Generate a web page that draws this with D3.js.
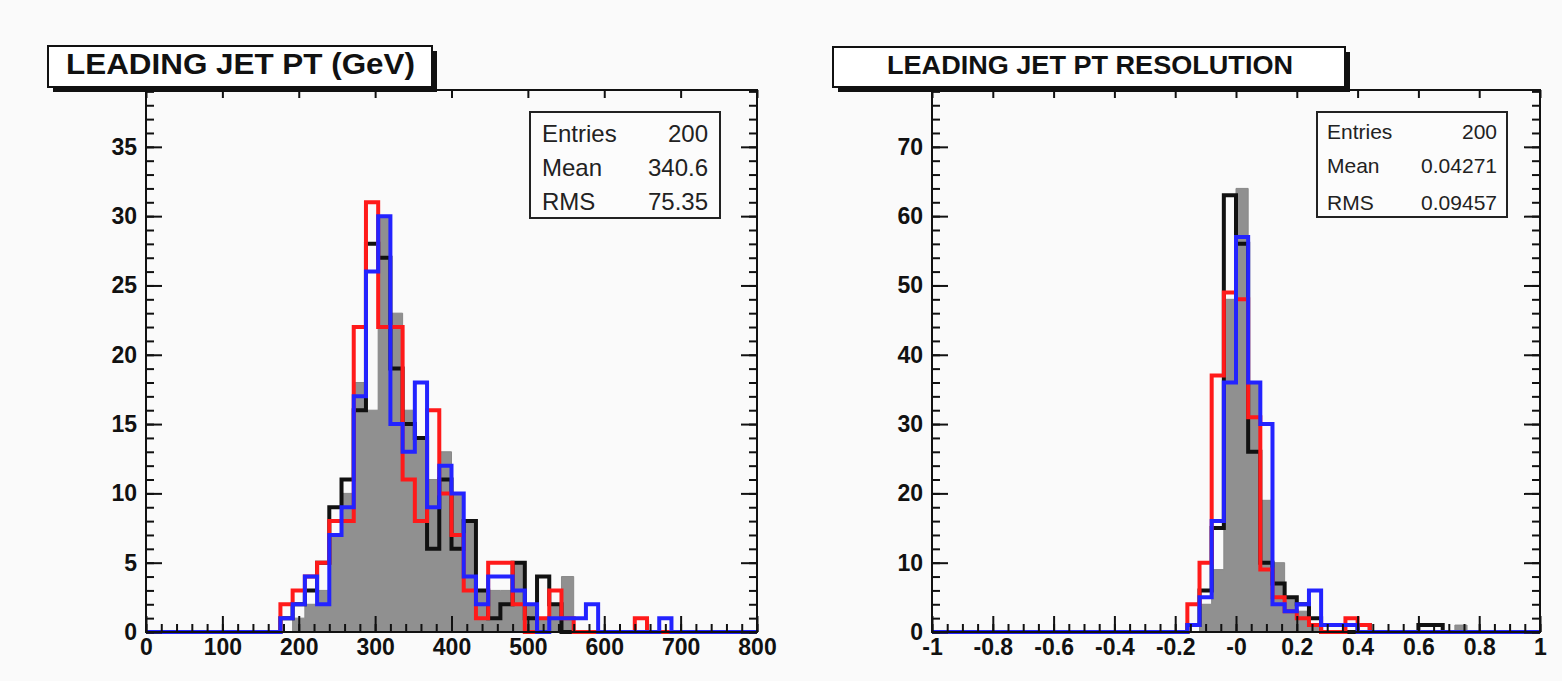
<!DOCTYPE html>
<html>
<head>
<meta charset="utf-8">
<script src="https://cdn.jsdelivr.net/npm/d3@7"></script>
<style>
  body { margin: 0; background: #fafafa; }
  svg { display: block; }
  .tick text { font-family: "Liberation Sans", Arial, sans-serif; font-weight: bold; font-size: 23px; fill: #111; }
  .tick line { stroke: #111; stroke-width: 2; }
</style>
</head>
<body>
<svg id="chart" width="1562" height="681"></svg>
<script>
// ---- data: bin contents (50 bins each) ----
// leading jet pt, 0..800 GeV, 16 GeV bins
const ptRange = [0, 800];
const ptTicks = [0, 100, 200, 300, 400, 500, 600, 700, 800];
const ptCountTicks = [0, 5, 10, 15, 20, 25, 30, 35];
const ptGray = [
  0,0,0,0,0,0,0,0,0,0, 0,0,1,2,3,7,10,18,16,30,
  23,16,14,11,13,10,8,3,3,3, 5,2,1,2,4,0,0,0,0,0,
  0,0,0,0,0,0,0,0,0,0];
const ptBlack = [
  0,0,0,0,0,0,0,0,0,0, 0,1,2,3,5,9,11,16,28,27,
  19,15,14,6,11,6,8,3,1,2, 5,1,4,2,0,0,0,0,0,0,
  0,0,0,0,0,0,0,0,0,0];
const ptRed = [
  0,0,0,0,0,0,0,0,0,0, 0,2,3,4,5,8,8,22,31,22,
  22,11,8,16,10,7,3,1,5,5, 2,0,1,3,1,0,0,0,0,0,
  1,0,0,0,0,0,0,0,0,0];
const ptBlue = [
  0,0,0,0,0,0,0,0,0,0, 0,1,2,4,2,7,9,17,26,30,
  15,13,18,9,12,10,4,2,4,4, 3,2,0,1,1,1,2,0,0,0,
  0,0,1,0,0,0,0,0,0,0];
const ptStats = [["Entries", "200"], ["Mean", "340.6"], ["RMS", "75.35"]];

// leading jet pt resolution, -1..1, 0.04 bins
const resRange = [-1, 1];
const resTicks = [-1, -0.8, -0.6, -0.4, -0.2, 0, 0.2, 0.4, 0.6, 0.8, 1];
const resTickLabels = ["-1", "-0.8", "-0.6", "-0.4", "-0.2", "-0", "0.2", "0.4", "0.6", "0.8", "1"];
const resCountTicks = [0, 10, 20, 30, 40, 50, 60, 70, 80];
const resGray = [
  0,0,0,0,0,0,0,0,0,0, 0,0,0,0,0,0,0,0,0,0,
  0,0,4,9,48,64,36,19,10,5, 3,1,0,0,0,0,0,0,0,0,
  0,0,0,1,0,0,0,0,0,0];
const resBlack = [
  0,0,0,0,0,0,0,0,0,0, 0,0,0,0,0,0,0,0,0,0,
  0,1,6,15,63,56,26,10,7,5, 4,2,0,0,0,1,0,0,0,0,
  1,1,0,0,0,0,0,0,0,0];
const resRed = [
  0,0,0,0,0,0,0,0,0,0, 0,0,0,0,0,0,0,0,0,0,
  0,4,10,37,49,48,31,9,5,3, 2,1,0,0,2,1,0,0,0,0,
  0,0,0,0,0,0,0,0,0,0];
const resBlue = [
  0,0,0,0,0,0,0,0,0,0, 0,0,0,0,0,0,0,0,0,0,
  0,1,5,16,36,57,36,30,4,3, 4,6,1,1,1,0,0,0,0,0,
  0,0,0,0,0,0,0,0,0,0];
const resStats = [["Entries", "200"], ["Mean", "0.04271"], ["RMS", "0.09457"]];

const svg = d3.select('#chart');
const FONT = '"Liberation Sans", Arial, sans-serif';

function drawHist(cfg) {
  const x = d3.scaleLinear().domain(cfg.xDomain).range([cfg.left, cfg.right]);
  const y = d3.scaleLinear().domain([0, cfg.yMax]).range([cfg.bottom, cfg.top]);
  const nb = cfg.gray.length;
  const bw = (cfg.xDomain[1] - cfg.xDomain[0]) / nb;

  const g = svg.append('g');

  // step outline of a histogram
  const stepPath = (vals) => {
    let p = `M${x(cfg.xDomain[0])},${y(0)}`;
    vals.forEach((v, i) => {
      const lo = cfg.xDomain[0] + i * bw;
      p += `L${x(lo)},${y(v)}L${x(lo + bw)},${y(v)}`;
    });
    p += `L${x(cfg.xDomain[1])},${y(0)}`;
    return p;
  };

  g.append('path')
    .attr('d', stepPath(cfg.gray) + 'Z')
    .attr('fill', '#909090')
    .attr('stroke', '#888')
    .attr('stroke-width', 1);

  [[cfg.black, '#111'], [cfg.red, '#ff1a1a'], [cfg.blue, '#2323ff']].forEach(([vals, col]) => {
    g.append('path')
      .attr('d', stepPath(vals))
      .attr('fill', 'none')
      .attr('stroke', col)
      .attr('stroke-width', 4)
      .attr('stroke-linejoin', 'miter');
  });

  // frame
  svg.append('rect')
    .attr('x', cfg.left).attr('y', cfg.top)
    .attr('width', cfg.right - cfg.left).attr('height', cfg.bottom - cfg.top)
    .attr('fill', 'none').attr('stroke', '#111').attr('stroke-width', 2);

  // bottom axis: labels + inward ticks
  const xMinor = d3.range(cfg.xDomain[0], cfg.xDomain[1] + bw / 10, cfg.xMinorStep);
  svg.append('g').attr('transform', `translate(0,${cfg.bottom})`)
    .call(d3.axisBottom(x).tickValues(xMinor).tickSize(-8).tickFormat(''))
    .call(s => s.select('.domain').remove());
  svg.append('g').attr('transform', `translate(0,${cfg.bottom})`)
    .call(d3.axisBottom(x).tickValues(cfg.xTicks).tickSize(-16).tickPadding(7)
      .tickFormat((d, i) => cfg.xLabels[i]))
    .call(s => s.select('.domain').remove());
  // top axis ticks
  svg.append('g').attr('transform', `translate(0,${cfg.top})`)
    .call(d3.axisTop(x).tickValues(cfg.xTicks).tickSize(-8).tickFormat(''))
    .call(s => s.select('.domain').remove());

  // left axis
  const yMinor = d3.range(0, cfg.yMax, cfg.yMinorStep);
  svg.append('g').attr('transform', `translate(${cfg.left},0)`)
    .call(d3.axisLeft(y).tickValues(yMinor).tickSize(-8).tickFormat(''))
    .call(s => s.select('.domain').remove());
  svg.append('g').attr('transform', `translate(${cfg.left},0)`)
    .call(d3.axisLeft(y).tickValues(cfg.yTicks).tickSize(-16).tickPadding(9).tickFormat(d3.format('d')))
    .call(s => s.select('.domain').remove());
  // right axis
  svg.append('g').attr('transform', `translate(${cfg.right},0)`)
    .call(d3.axisRight(y).tickValues(yMinor).tickSize(-8).tickFormat(''))
    .call(s => s.select('.domain').remove());
  svg.append('g').attr('transform', `translate(${cfg.right},0)`)
    .call(d3.axisRight(y).tickValues(cfg.yTicks.filter(v => v < cfg.yMax)).tickSize(-16).tickFormat(''))
    .call(s => s.select('.domain').remove());

  // stats box
  const sb = cfg.stats;
  svg.append('rect')
    .attr('x', sb.x).attr('y', sb.y).attr('width', sb.w).attr('height', sb.h)
    .attr('fill', '#fcfcfc').attr('stroke', '#222').attr('stroke-width', 2);
  cfg.statRows.forEach((row, i) => {
    svg.append('text')
      .attr('x', sb.x + sb.pad).attr('y', sb.baselines[i])
      .attr('font-family', FONT).attr('font-size', sb.fs).attr('font-weight', sb.fw).attr('fill', '#222')
      .text(row[0]);
    svg.append('text')
      .attr('x', sb.x + sb.w - sb.pad).attr('y', sb.baselines[i])
      .attr('text-anchor', 'end')
      .attr('font-family', FONT).attr('font-size', sb.fs).attr('font-weight', sb.fw).attr('fill', '#222')
      .text(row[1]);
  });

  // title box with shadow
  const tb = cfg.titleBox;
  svg.append('rect')
    .attr('x', tb.x + 5).attr('y', tb.y + 5).attr('width', tb.w).attr('height', tb.h)
    .attr('fill', '#111');
  svg.append('rect')
    .attr('x', tb.x).attr('y', tb.y).attr('width', tb.w).attr('height', tb.h)
    .attr('fill', '#fff').attr('stroke', '#111').attr('stroke-width', 2);
  svg.append('text')
    .attr('x', tb.tx).attr('y', tb.ty)
    .attr('font-family', FONT).attr('font-weight', 'bold').attr('font-size', tb.fs)
    .attr('textLength', tb.len).attr('lengthAdjust', 'spacingAndGlyphs')
    .attr('fill', '#111')
    .text(cfg.title);
}

drawHist({
  left: 146, right: 757, top: 90, bottom: 632,
  xDomain: ptRange, yMax: 39.1,
  xTicks: ptTicks, xLabels: ptTicks.map(String), xMinorStep: 20,
  yTicks: ptCountTicks, yMinorStep: 1,
  gray: ptGray, black: ptBlack, red: ptRed, blue: ptBlue,
  statRows: ptStats,
  stats: { x: 530, y: 112, w: 190, h: 106, pad: 12, fs: 24, fw: 'normal', baselines: [142, 176, 210] },
  title: 'LEADING JET PT (GeV)',
  titleBox: { x: 48, y: 46, w: 384, h: 41, tx: 66, ty: 74, fs: 29, len: 349 }
});

drawHist({
  left: 932, right: 1540, top: 90, bottom: 632,
  xDomain: resRange, yMax: 78.2,
  xTicks: resTicks, xLabels: resTickLabels, xMinorStep: 0.05,
  yTicks: resCountTicks, yMinorStep: 2,
  gray: resGray, black: resBlack, red: resRed, blue: resBlue,
  statRows: resStats,
  stats: { x: 1317, y: 112, w: 190, h: 105, pad: 10, fs: 21, fw: 'normal', baselines: [139, 173, 210] },
  title: 'LEADING JET PT RESOLUTION',
  titleBox: { x: 833, y: 47, w: 512, h: 40, tx: 887, ty: 74, fs: 26, len: 406 }
});
</script>
</body>
</html>
